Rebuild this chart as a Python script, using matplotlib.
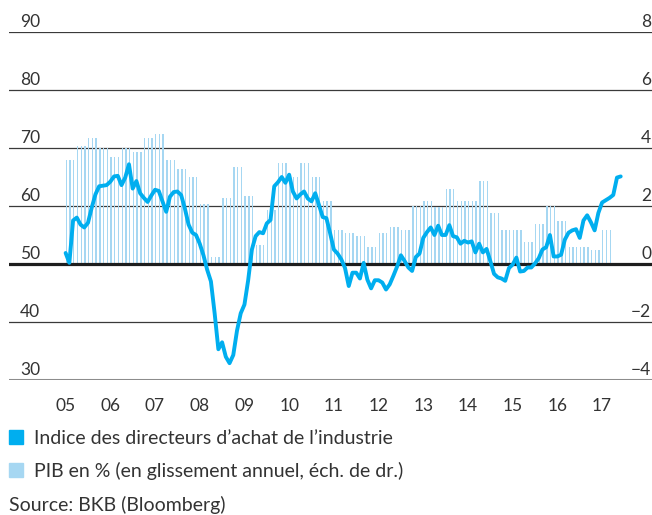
import numpy as np
import matplotlib
matplotlib.use("Agg")
import matplotlib.pyplot as plt
from matplotlib.patches import Rectangle

plt.rcParams['font.family'] = ['Lato', 'DejaVu Sans']

# PMI industrie, mensuel, de juillet 2005 (mois 6) a decembre 2017 (mois 155)
pmi = [51.9, 50.2, 57.5, 58.0, 56.8, 56.3,
       57.1, 59.7, 62.0, 63.4, 63.5, 63.6, 64.2, 65.1, 65.2, 63.6, 64.9, 67.2,
       63.0, 64.3, 62.2, 61.4, 60.7, 61.8, 62.8, 62.6, 60.8, 59.0, 61.6, 62.4,
       62.5, 61.9, 59.6, 56.8, 55.4, 55.0, 53.5, 51.5, 49.0, 47.0, 41.5, 35.3,
       36.5, 34.0, 32.9, 34.3, 38.5, 41.5, 43.0, 47.2, 52.5, 54.8, 55.5, 55.3,
       57.0, 57.6, 63.4, 64.1, 65.0, 64.0, 65.4, 62.5, 61.3, 62.0, 62.5, 61.3,
       60.8, 62.2, 60.2, 58.1, 57.9, 55.3, 52.5, 51.8, 50.8, 49.3, 46.2, 48.5,
       48.5, 47.5, 50.2, 47.3, 45.8, 47.2, 47.2, 46.8, 45.6, 46.5, 48.0, 49.6,
       51.5, 50.5, 49.4, 48.8, 51.2, 51.8, 54.5, 55.5, 56.3, 55.0, 56.6, 55.0,
       55.0, 56.7, 54.8, 54.6, 53.5, 54.0, 53.7, 53.9, 52.0, 53.5, 52.0, 52.6,
       50.5, 48.3, 47.7, 47.5, 47.1, 49.3, 49.9, 51.1, 48.7, 48.8, 49.4, 49.4,
       50.1, 51.0, 52.5, 52.9, 55.0, 51.3, 51.3, 51.6, 54.2, 55.4, 55.8, 56.0,
       54.5, 57.5, 58.4, 57.2, 55.8, 58.8, 60.6, 61.0, 61.4, 61.9, 64.9, 65.1]
pmi_mois = np.arange(6, 6 + len(pmi))

# PIB trimestriel en %, T3 2005 a T3 2017 (echelle de droite)
pib = [3.60, 4.07,
       4.36, 3.99, 3.68, 3.99,
       3.85, 4.36, 4.47, 3.59,
       3.28, 2.99, 2.06, 0.25,
       2.26, 3.36, 2.34, 0.66,
       1.86, 3.47, 2.99, 3.47,
       3.00, 2.17, 1.16, 1.06,
       0.97, 0.57, 1.06, 1.26,
       1.17, 2.00, 2.17, 1.98,
       2.59, 2.17, 2.17, 2.87,
       1.75, 1.17, 1.17, 0.77,
       1.38, 2.00, 1.48, 0.59,
       0.59, 0.48, 1.17]
pib_mois = np.arange(6, 6 + 3 * len(pib))
pib_barres = np.repeat(pib, 3)

annees = ['05', '06', '07', '08', '09', '10', '11', '12', '13', '14', '15', '16', '17']
annees_pos = [6 + 12 * i for i in range(len(annees))]

ticks_gauche = [30, 40, 50, 60, 70, 80, 90]
ticks_droite = [-4, -2, 0, 2, 4, 6, 8]

cyan = '#00aeef'
bleu_clair = '#a6d7f2'
gris_texte = '#333333'
taille = 12.5
taille_leg = 14

fig = plt.figure(figsize=(6.52, 5.15), dpi=100)
ax = fig.add_axes([9 / 652, 135 / 515, 643 / 652, 348 / 515])
ax2 = ax.twinx()
ax.set_zorder(ax2.get_zorder() + 1)
ax.patch.set_visible(False)

ax.set_xlim(-9.2, 163.4)
ax.set_ylim(30, 90)
ax2.set_ylim(-4, 8)

# barres PIB (une fine barre par mois)
ax2.bar(pib_mois, pib_barres, width=0.38, align='edge', color=bleu_clair, zorder=2)

# lignes horizontales
for v in ticks_droite:
    if v == 0:
        ax2.axhline(v, color='#1e1e1e', lw=2.3, zorder=3)
    elif v == -4:
        ax2.axhline(v, color='#8c8c8c', lw=2.2, zorder=3)
    else:
        ax2.axhline(v, color='#3a3a3a', lw=0.9, zorder=1)

ax.plot(pmi_mois, pmi, color=cyan, lw=2.8, solid_joinstyle='round', solid_capstyle='round', zorder=5)

for a in (ax, ax2):
    for s in a.spines.values():
        s.set_visible(False)
    a.tick_params(left=False, right=False, bottom=False, labelleft=False, labelright=False)

ax.set_xticks(annees_pos)
ax.set_xticklabels(annees, fontsize=taille, color=gris_texte)
ax.tick_params(axis='x', pad=13, length=0)

for v in ticks_gauche:
    ax.annotate(str(v), xy=(0, v), xycoords=('axes fraction', 'data'), xytext=(11, 5),
                textcoords='offset pixels', ha='left', va='baseline', fontsize=taille, color=gris_texte)
for v in ticks_droite:
    lab = str(v).replace('-', '\u2212')
    ax2.annotate(lab, xy=(1, v), xycoords=('axes fraction', 'data'), xytext=(-1, 5),
                 textcoords='offset pixels', ha='right', va='baseline', fontsize=taille, color=gris_texte)

# legende
legende = [(cyan, "Indice des directeurs d\u2019achat de l\u2019industrie", 444),
           (bleu_clair, "PIB en % (en glissement annuel, \u00e9ch. de dr.)", 477)]
for couleur, texte, base in legende:
    fig.add_artist(Rectangle((9 / 652, 1 - base / 515), 14 / 652, 14 / 515,
                             transform=fig.transFigure, color=couleur))
    fig.text(34 / 652, 1 - base / 515, texte, fontsize=taille_leg, color=gris_texte, va='baseline')

fig.text(9 / 652, 1 - 511 / 515, "Source: BKB (Bloomberg)", fontsize=taille_leg, color=gris_texte, va='baseline')

fig.savefig('out.png', dpi=100)
